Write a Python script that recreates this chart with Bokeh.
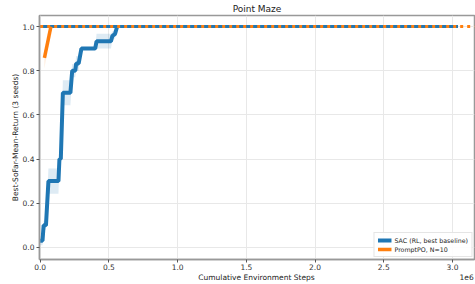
from bokeh.plotting import figure
from bokeh.models import Range1d, Legend, LegendItem, FixedTicker, LinearAxis
from bokeh.embed import file_html
from bokeh.resources import INLINE

# ---- data (x in millions of environment steps) ----
sac_x = [0.0, 0.017, 0.025, 0.042, 0.06, 0.133, 0.14, 0.15, 0.165, 0.22, 0.233, 0.255,
         0.262, 0.28, 0.30, 0.40, 0.41, 0.515, 0.525, 0.545, 0.56]
sac_mean = [0.03, 0.03, 0.10, 0.10, 0.30, 0.30, 0.40, 0.40, 0.70, 0.70, 0.80, 0.80,
            0.833, 0.833, 0.90, 0.90, 0.933, 0.933, 0.957, 0.967, 1.0]
sac_lo = [0.01, 0.01, 0.08, 0.08, 0.243, 0.243, 0.38, 0.38, 0.643, 0.643, 0.77, 0.77,
          0.80, 0.80, 0.90, 0.90, 0.90, 0.90, 0.937, 0.947, 1.0]
sac_hi = [0.05, 0.05, 0.12, 0.12, 0.357, 0.357, 0.42, 0.42, 0.757, 0.757, 0.83, 0.83,
          0.867, 0.867, 0.90, 0.90, 0.967, 0.967, 0.977, 0.987, 1.0]
sac_final_x = [0.0, 3.04]
sac_final_y = [1.0, 1.0]

ppo_x = [0.031, 0.078]
ppo_mean = [0.858, 1.0]
ppo_lo = [0.81, 1.0]
ppo_hi = [0.86, 1.0]
ppo_final_x = [0.0, 3.16]
ppo_final_y = [1.0, 1.0]

x_ticks = [0.0, 0.5, 1.0, 1.5, 2.0, 2.5, 3.0]
y_ticks = [0.0, 0.2, 0.4, 0.6, 0.8, 1.0]
x_title = "Cumulative Environment Steps"
x_scale_text = "1e6"

BLUE = "#1f77b4"
ORANGE = "#ff7f0e"
FONT = "DejaVu Sans"

p = figure(width=475, height=284, output_backend="svg", toolbar_location=None,
           x_range=Range1d(-0.005, 3.16), y_range=Range1d(-0.055, 1.05),
           min_border_left=39, min_border_right=1, min_border_top=2, min_border_bottom=20)

p.title.text = "Point Maze"
p.title.align = "center"
p.title.text_font = FONT
p.title.text_font_size = "9px"
p.title.text_font_style = "normal"
p.title.text_color = "#222222"
p.title.standoff = 3

# band
p.varea(x=sac_x, y1=sac_lo, y2=sac_hi, fill_color=BLUE, fill_alpha=0.15)
p.varea(x=ppo_x, y1=ppo_lo, y2=ppo_hi, fill_color=ORANGE, fill_alpha=0.15)

# horizontal final lines
p.line(sac_final_x, sac_final_y, line_color=BLUE, line_width=3)
r_sac = p.line(sac_x, sac_mean, line_color=BLUE, line_width=4)
r_ppo = p.line(ppo_x, ppo_mean, line_color=ORANGE, line_width=3.5)
p.line(ppo_final_x, ppo_final_y, line_color=ORANGE, line_width=3, line_dash="3 4")

# axes
for ax in (p.xaxis[0], p.yaxis[0]):
    ax.axis_line_color = "#999999"
    ax.axis_line_width = 1.5
    ax.major_tick_line_color = "#555555"
    ax.major_tick_out = 3
    ax.major_tick_in = 0
    ax.minor_tick_line_color = None
    ax.major_label_text_font = FONT
    ax.major_label_text_font_size = "7.5px"
    ax.major_label_text_color = "#333333"
    ax.axis_label_text_font = FONT
    ax.axis_label_text_font_size = "7.5px"
    ax.axis_label_text_font_style = "normal"
    ax.axis_label_text_color = "#222222"
    ax.major_label_standoff = 2
    ax.axis_label_standoff = 2

p.xaxis.ticker = FixedTicker(ticks=x_ticks)
p.xaxis.major_label_overrides = {t: f"{t:.1f}" for t in x_ticks}
p.xaxis.major_label_standoff = 1
p.yaxis.ticker = FixedTicker(ticks=y_ticks)
p.yaxis.major_label_overrides = {t: f"{t:.1f}" for t in y_ticks}
p.yaxis.axis_label = "Best-SoFar-Mean-Return (3 seeds)"
p.yaxis.axis_label_standoff = 0

# second (label-only) axis below holding the axis title and the "1e6" multiplier
title_pos = 1.574
scale_pos = 3.103
ax2 = LinearAxis(ticker=FixedTicker(ticks=[title_pos, scale_pos]),
                 major_label_overrides={title_pos: x_title, scale_pos: x_scale_text})
ax2.axis_line_color = None
ax2.major_tick_line_color = None
ax2.minor_tick_line_color = None
ax2.major_tick_out = 0
ax2.major_tick_in = 0
ax2.major_label_standoff = 0
ax2.major_label_text_font = FONT
ax2.major_label_text_font_size = "7.5px"
ax2.major_label_text_color = "#222222"
p.add_layout(ax2, "below")

p.outline_line_color = "#999999"
p.outline_line_width = 1.5
p.grid.grid_line_color = "#e8e8e8"
p.grid.grid_line_width = 1
p.xgrid.ticker = FixedTicker(ticks=x_ticks)

legend = Legend(items=[LegendItem(label="SAC (RL, best baseline)", renderers=[r_sac]),
                       LegendItem(label="PromptPO, N=10", renderers=[r_ppo])],
                location="bottom_right")
legend.label_text_font = FONT
legend.label_text_font_size = "6.3px"
legend.label_text_color = "#222222"
legend.label_height = 8
legend.glyph_height = 8
legend.glyph_width = 14
legend.spacing = 1
legend.padding = 3
legend.margin = 2
legend.label_standoff = 3
legend.border_line_color = "#cccccc"
legend.background_fill_alpha = 0.9
p.add_layout(legend)

open("out.html", "w").write(file_html(p, INLINE))
